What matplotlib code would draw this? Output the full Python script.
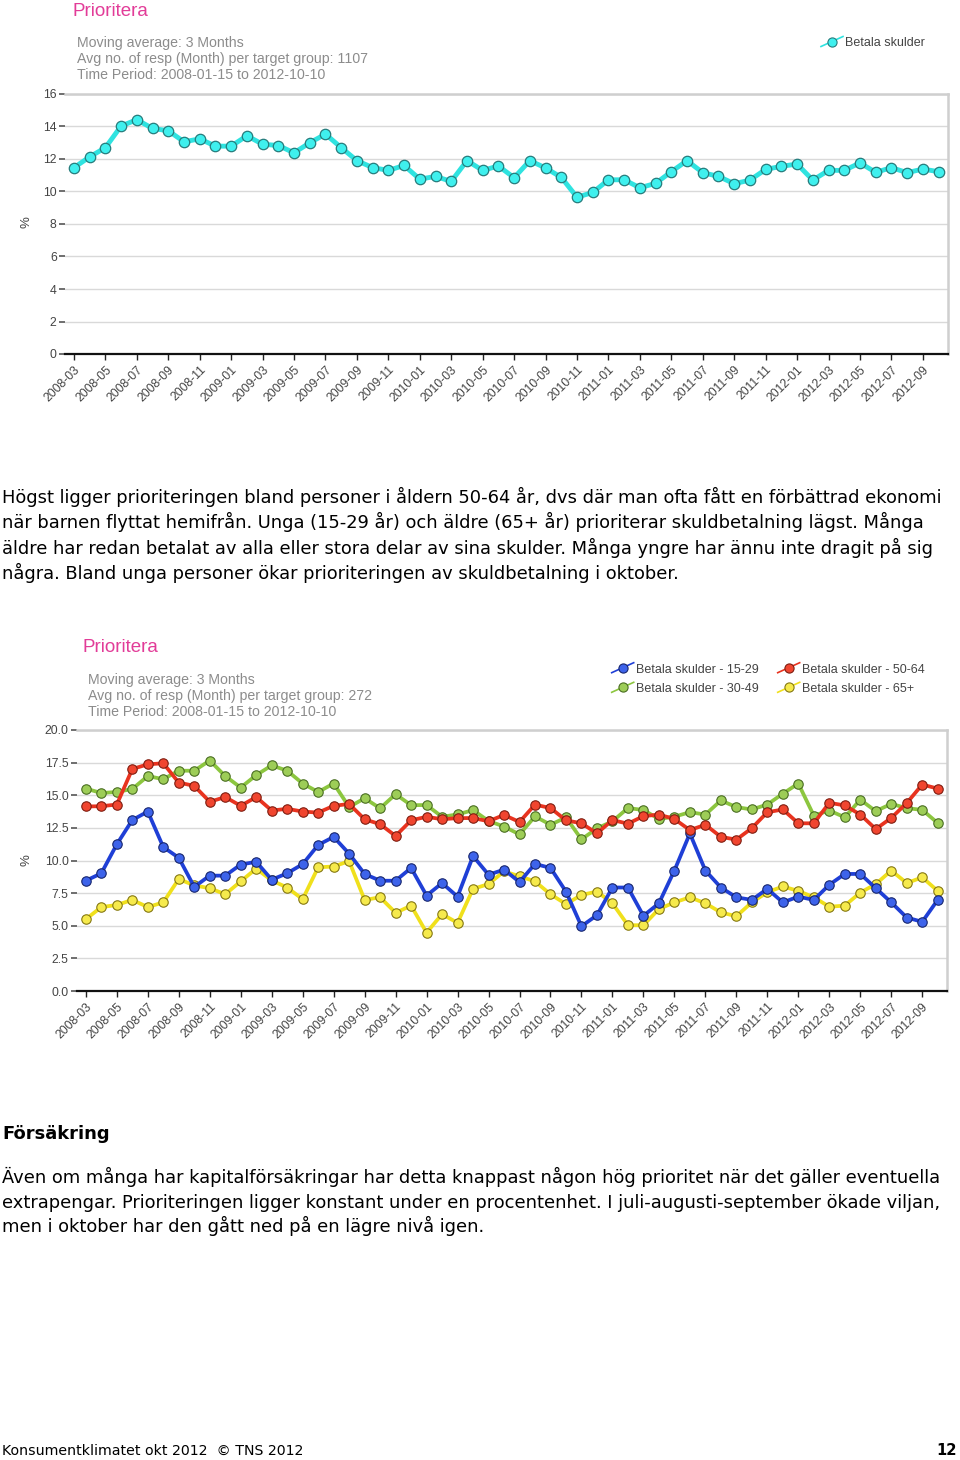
import matplotlib
matplotlib.use("Agg")
import matplotlib.pyplot as plt
import numpy as np
from matplotlib.lines import Line2D

# ---------------- data ----------------
tick_labels = ["2008-03", "2008-05", "2008-07", "2008-09", "2008-11",
               "2009-01", "2009-03", "2009-05", "2009-07", "2009-09", "2009-11",
               "2010-01", "2010-03", "2010-05", "2010-07", "2010-09", "2010-11",
               "2011-01", "2011-03", "2011-05", "2011-07", "2011-09", "2011-11",
               "2012-01", "2012-03", "2012-05", "2012-07", "2012-09"]

betala_skulder = [11.47, 12.13, 12.7, 14.03, 14.42, 13.88, 13.74, 13.06, 13.24, 12.79,
                  12.79, 13.43, 12.91, 12.83, 12.38, 13.0, 13.53, 12.7, 11.9, 11.47,
                  11.3, 11.6, 10.76, 10.93, 10.62, 11.9, 11.3, 11.57, 10.85, 11.9,
                  11.45, 10.87, 9.65, 9.94, 10.72, 10.72, 10.23, 10.5, 11.22, 11.9,
                  11.16, 10.93, 10.48, 10.7, 11.36, 11.55, 11.69, 10.7, 11.3, 11.3,
                  11.76, 11.18, 11.47, 11.16, 11.38, 11.22]

age_15_29 = [8.45, 9.02, 11.24, 13.1, 13.75, 11.03, 10.21, 7.98, 8.84, 8.84, 9.69, 9.9,
             8.53, 9.02, 9.72, 11.19, 11.81, 10.52,
             8.97, 8.45, 8.45, 9.43, 7.31, 8.27, 7.23, 10.34, 8.91, 9.3, 8.35, 9.74,
             9.43, 7.62, 4.96, 5.81, 7.93, 7.93, 5.76,
             6.72, 9.23, 12.07, 9.23, 7.93, 7.18, 6.98, 7.83, 6.79, 7.23, 6.98, 8.14,
             8.97, 8.97, 7.88, 6.79, 5.63, 5.3, 6.98]

age_30_49 = [15.51, 15.17, 15.25, 15.48, 16.47, 16.23, 16.88, 16.88, 17.66, 16.47, 15.59,
             16.54, 17.29, 16.88, 15.9, 15.25, 15.9, 14.1,
             14.77, 14.0, 15.08, 14.24, 14.25, 13.35, 13.53, 13.86, 13.03, 12.6, 12.0,
             13.38, 12.74, 13.3, 11.62, 12.46, 13.0, 14.02, 13.87,
             13.18, 13.36, 13.7, 13.52, 14.6, 14.09, 13.91, 14.29, 15.12, 15.9, 13.44,
             13.83, 13.31, 14.66, 13.78, 14.34, 14.01, 13.88, 12.87]

age_50_64 = [14.14, 14.16, 14.29, 17.01, 17.37, 17.45, 15.97, 15.72, 14.5, 14.86, 14.19,
             14.86, 13.83, 13.96, 13.75, 13.67, 14.19, 14.33,
             13.16, 12.78, 11.88, 13.08, 13.35, 13.16, 13.25, 13.25, 13.01, 13.49, 12.95,
             14.28, 14.02, 13.08, 12.85, 12.08, 13.1, 12.82, 13.4,
             13.52, 13.18, 12.33, 12.74, 11.81, 11.6, 12.48, 13.7, 13.91, 12.85, 12.85,
             14.42, 14.22, 13.52, 12.41, 13.26, 14.4, 15.82, 15.51]

age_65 = [5.5, 6.43, 6.59, 6.98, 6.43, 6.79, 8.58, 8.09, 7.88, 7.41, 8.4, 9.38, 8.47,
          7.93, 7.03, 9.48, 9.54, 9.95,
          6.98, 7.18, 5.99, 6.54, 4.47, 5.89, 5.22, 7.83, 8.19, 9.17, 8.79, 8.4, 7.41,
          6.66, 7.36, 7.62, 6.72, 5.04, 5.04,
          6.28, 6.79, 7.18, 6.72, 6.02, 5.73, 6.79, 7.57, 8.01, 7.67, 7.18, 6.46, 6.54,
          7.54, 8.19, 9.23, 8.27, 8.71, 7.67]

para1 = ["Högst ligger prioriteringen bland personer i åldern 50-64 år, dvs där man ofta fått en förbättrad ekonomi",
         "när barnen flyttat hemifrån. Unga (15-29 år) och äldre (65+ år) prioriterar skuldbetalning lägst. Många",
         "äldre har redan betalat av alla eller stora delar av sina skulder. Många yngre har ännu inte dragit på sig",
         "några. Bland unga personer ökar prioriteringen av skuldbetalning i oktober."]
heading2 = "Försäkring"
para2 = ["Även om många har kapitalförsäkringar har detta knappast någon hög prioritet när det gäller eventuella",
         "extrapengar. Prioriteringen ligger konstant under en procentenhet. I juli-augusti-september ökade viljan,",
         "men i oktober har den gått ned på en lägre nivå igen."]

# ---------------- styling ----------------
W, H = 960, 1460
CHART_FONT = ["Liberation Sans", "DejaVu Sans"]
BODY_FONT = ["DejaVu Sans"]
PINK = "#e23c98"
SUB = "#8c8c8c"
GRID = "#d9d9d9"

styles = {
    "cyan": dict(color="#2fe3e0", mfc="#3ff0ee", mec="#267c7c"),
    "blue": dict(color="#1f3fd6", mfc="#3d63ea", mec="#17266e"),
    "green": dict(color="#8cc63f", mfc="#9dcd57", mec="#4a6e22"),
    "red": dict(color="#e8331f", mfc="#f0452f", mec="#7e1d10"),
    "yellow": dict(color="#f0e01c", mfc="#f6ea4c", mec="#857812"),
}

fig = plt.figure(figsize=(W / 100, H / 100), dpi=100)
fig.patch.set_facecolor("white")


def rect(left, top, right, bottom):
    return [left / W, 1 - bottom / H, (right - left) / W, (bottom - top) / H]


def style_axes(ax, ymax, yticks, yfmt, n):
    ax.set_xlim(-0.57, n - 1 + 0.6)
    ax.set_ylim(0, ymax)
    ax.set_yticks(yticks)
    ax.set_yticklabels([yfmt.format(v) for v in yticks], fontfamily=CHART_FONT,
                       fontsize=8.8, color="#444444")
    pos = np.arange(0, n, 2)[:len(tick_labels)]
    ax.set_xticks(pos)
    ax.set_xticklabels(tick_labels, rotation=45, ha="right", va="top",
                       rotation_mode="anchor", fontfamily=CHART_FONT,
                       fontsize=8.8, color="#444444")
    ax.tick_params(axis="y", length=4, width=1.2, color="#555555", pad=2)
    ax.tick_params(axis="x", length=4, width=1.0, color="#222222", pad=3)
    ax.grid(axis="y", color=GRID, linewidth=1.0)
    ax.set_axisbelow(True)
    ax.spines["left"].set_visible(False)
    ax.spines["bottom"].set_color("#111111")
    ax.spines["bottom"].set_linewidth(1.6)
    for s in ("top", "right"):
        ax.spines[s].set_color("#cfcfcf")
        ax.spines[s].set_linewidth(1.8)
    ax.set_facecolor("white")


# ---------------- chart 1 ----------------
ax1 = fig.add_axes(rect(65, 94, 948, 354))
x1 = np.arange(len(betala_skulder))
s = styles["cyan"]
ax1.plot(x1, betala_skulder, "-o", color=s["color"], lw=3.5, ms=7.5,
         mfc=s["mfc"], mec=s["mec"], mew=0.9, zorder=3, clip_on=False)
style_axes(ax1, 16, list(range(0, 17, 2)), "{:d}", len(betala_skulder))

# ---------------- chart 2 ----------------
ax2 = fig.add_axes(rect(77, 730, 947, 991))
x2 = np.arange(len(age_15_29))
series2 = [("Betala skulder - 30-49", age_30_49, "green"),
           ("Betala skulder - 65+", age_65, "yellow"),
           ("Betala skulder - 15-29", age_15_29, "blue"),
           ("Betala skulder - 50-64", age_50_64, "red")]
for k, (name, vals, c) in enumerate(series2):
    s = styles[c]
    ax2.plot(x2, vals, "-o", color=s["color"], lw=2.7, ms=6.8, mfc=s["mfc"],
             mec=s["mec"], mew=0.8, zorder=3 + k, clip_on=False)
style_axes(ax2, 20, [0, 2.5, 5, 7.5, 10, 12.5, 15, 17.5, 20], "{:.1f}", len(age_15_29))

# ---------------- overlay (page text) ----------------
ov = fig.add_axes([0, 0, 1, 1], zorder=10)
ov.set_xlim(0, W)
ov.set_ylim(H, 0)
ov.axis("off")
ov.patch.set_alpha(0)


def legend_icon(cx, cy, c):
    s = styles[c]
    ov.add_line(Line2D([cx - 11, cx + 11], [cy + 5, cy - 5], color=s["color"], lw=1.2))
    ov.plot([cx], [cy], "o", ms=6.6, mfc=s["mfc"], mec=s["mec"], mew=0.8)


# chart 1 header
ov.text(72, 16, "Prioritera", color=PINK, fontsize=13.5, fontfamily=CHART_FONT, va="baseline")
for yb, t in zip([47, 63, 79], ["Moving average: 3 Months",
                                "Avg no. of resp (Month) per target group: 1107",
                                "Time Period: 2008-01-15 to 2012-10-10"]):
    ov.text(77, yb, t, color=SUB, fontsize=10.2, fontfamily=CHART_FONT, va="baseline")
legend_icon(832, 41.5, "cyan")
ov.text(845, 46.5, "Betala skulder", color="#444444", fontsize=9, fontfamily=CHART_FONT, va="baseline")
ov.text(26, 222, "%", rotation=90, color="#444444", fontsize=9.5, fontfamily=CHART_FONT,
        ha="center", va="center")

# chart 2 header
ov.text(82, 652, "Prioritera", color=PINK, fontsize=13.5, fontfamily=CHART_FONT, va="baseline")
for yb, t in zip([684, 700, 716], ["Moving average: 3 Months",
                                   "Avg no. of resp (Month) per target group: 272",
                                   "Time Period: 2008-01-15 to 2012-10-10"]):
    ov.text(88, yb, t, color=SUB, fontsize=10.2, fontfamily=CHART_FONT, va="baseline")
leg2 = [(622.7, 667.7, 636, 673, "blue", "Betala skulder - 15-29"),
        (622.7, 687.3, 636, 692.5, "green", "Betala skulder - 30-49"),
        (788.7, 667.7, 801.5, 673, "red", "Betala skulder - 50-64"),
        (788.7, 687.3, 801.5, 692.5, "yellow", "Betala skulder - 65+")]
for cx, cy, tx, ty, c, name in leg2:
    legend_icon(cx, cy, c)
    ov.text(tx, ty, name, color="#444444", fontsize=9, fontfamily=CHART_FONT, va="baseline")
ov.text(26, 860, "%", rotation=90, color="#444444", fontsize=9.5, fontfamily=CHART_FONT,
        ha="center", va="center")

# body text, size fitted to the measured line width
renderer = fig.canvas.get_renderer()
probe = ov.text(2, 503, para1[0], fontsize=11, fontfamily=BODY_FONT, va="baseline")
wpx = probe.get_window_extent(renderer).width
body_size = 11 * 946.0 / wpx
probe.remove()

for yb, line in zip([503, 528.5, 554, 579], para1):
    ov.text(2, yb, line, fontsize=body_size, fontfamily=BODY_FONT, color="#000000", va="baseline")
ov.text(2, 1139, heading2, fontsize=body_size, fontfamily=BODY_FONT, fontweight="bold",
        color="#000000", va="baseline")
for yb, line in zip([1183, 1207.5, 1232], para2):
    ov.text(2, yb, line, fontsize=body_size, fontfamily=BODY_FONT, color="#000000", va="baseline")

# footer
probe = ov.text(2, 1455, "Konsumentklimatet okt 2012  © TNS 2012", fontsize=9,
                fontfamily=BODY_FONT, va="baseline")
fw = probe.get_window_extent(renderer).width
probe.remove()
foot_size = 9 * 300.0 / fw
ov.text(2, 1455, "Konsumentklimatet okt 2012  © TNS 2012", fontsize=foot_size,
        fontfamily=BODY_FONT, color="#000000", va="baseline")
ov.text(957, 1455, "12", fontsize=foot_size * 1.05, fontfamily=BODY_FONT, fontweight="bold",
        color="#000000", ha="right", va="baseline")

fig.savefig("out.png", dpi=100, facecolor="white")
